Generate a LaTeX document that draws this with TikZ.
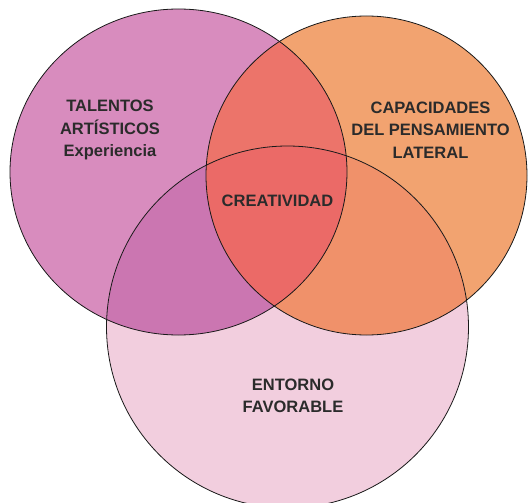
\documentclass[tikz,border=0pt]{standalone}
\usepackage{fontspec}
\setmainfont{Liberation Sans}
\usetikzlibrary{positioning}

\definecolor{artpink}{HTML}{D88CBE}
\definecolor{latorange}{HTML}{F2A370}
\definecolor{envpink}{HTML}{F2CEDE}
\definecolor{artlat}{HTML}{EC746A}
\definecolor{artenv}{HTML}{CB76B1}
\definecolor{latenv}{HTML}{F0916A}
\definecolor{creared}{HTML}{EB6A67}
\definecolor{labelgray}{HTML}{2B2B2B}

\begin{document}
\begin{tikzpicture}[x=1pt,y=-1pt,
  circle line/.style={draw=black!90,line width=0.8pt},
  main label/.style={align=center,text=labelgray,
    font=\bfseries\fontsize{16.5}{22.5}\selectfont}]
  \useasboundingbox (0,0) rectangle (530,503);
  \clip (0,0) rectangle (530,503);

  % centres of the three sets
  \coordinate (A) at (178.5,172);
  \coordinate (C) at (366.5,175.5);
  \coordinate (E) at (287.5,327);

  % plain sets
  \fill[artpink] (A) circle [x radius=168.5,y radius=163];
  \fill[latorange] (C) circle [x radius=160.5,y radius=159.5];
  \fill[envpink] (E) circle [radius=181];

  % pairwise overlaps
  \begin{scope}
    \clip (A) circle [x radius=168.5,y radius=163];
    \fill[artlat] (C) circle [x radius=160.5,y radius=159.5];
    \fill[artenv] (E) circle [radius=181];
  \end{scope}
  \begin{scope}
    \clip (C) circle [x radius=160.5,y radius=159.5];
    \fill[latenv] (E) circle [radius=181];
  \end{scope}

  % all three
  \begin{scope}
    \clip (A) circle [x radius=168.5,y radius=163];
    \clip (C) circle [x radius=160.5,y radius=159.5];
    \fill[creared] (E) circle [radius=181];
  \end{scope}

  % outlines
  \draw[circle line] (A) circle [x radius=168.5,y radius=163];
  \draw[circle line] (C) circle [x radius=160.5,y radius=159.5];
  \draw[circle line] (E) circle [radius=181];

  \node[main label] (talentos) at (110,130) {TALENTOS\\ARTÍSTICOS\\Experiencia};
  \node[main label] (capacidades) at (430.5,130) {CAPACIDADES\\DEL PENSAMIENTO\\LATERAL};
  \node[main label] (creatividad) at (277.5,201) {CREATIVIDAD};
  \node[main label] (entorno) at (293,396) {ENTORNO\\FAVORABLE};
\end{tikzpicture}
\end{document}
